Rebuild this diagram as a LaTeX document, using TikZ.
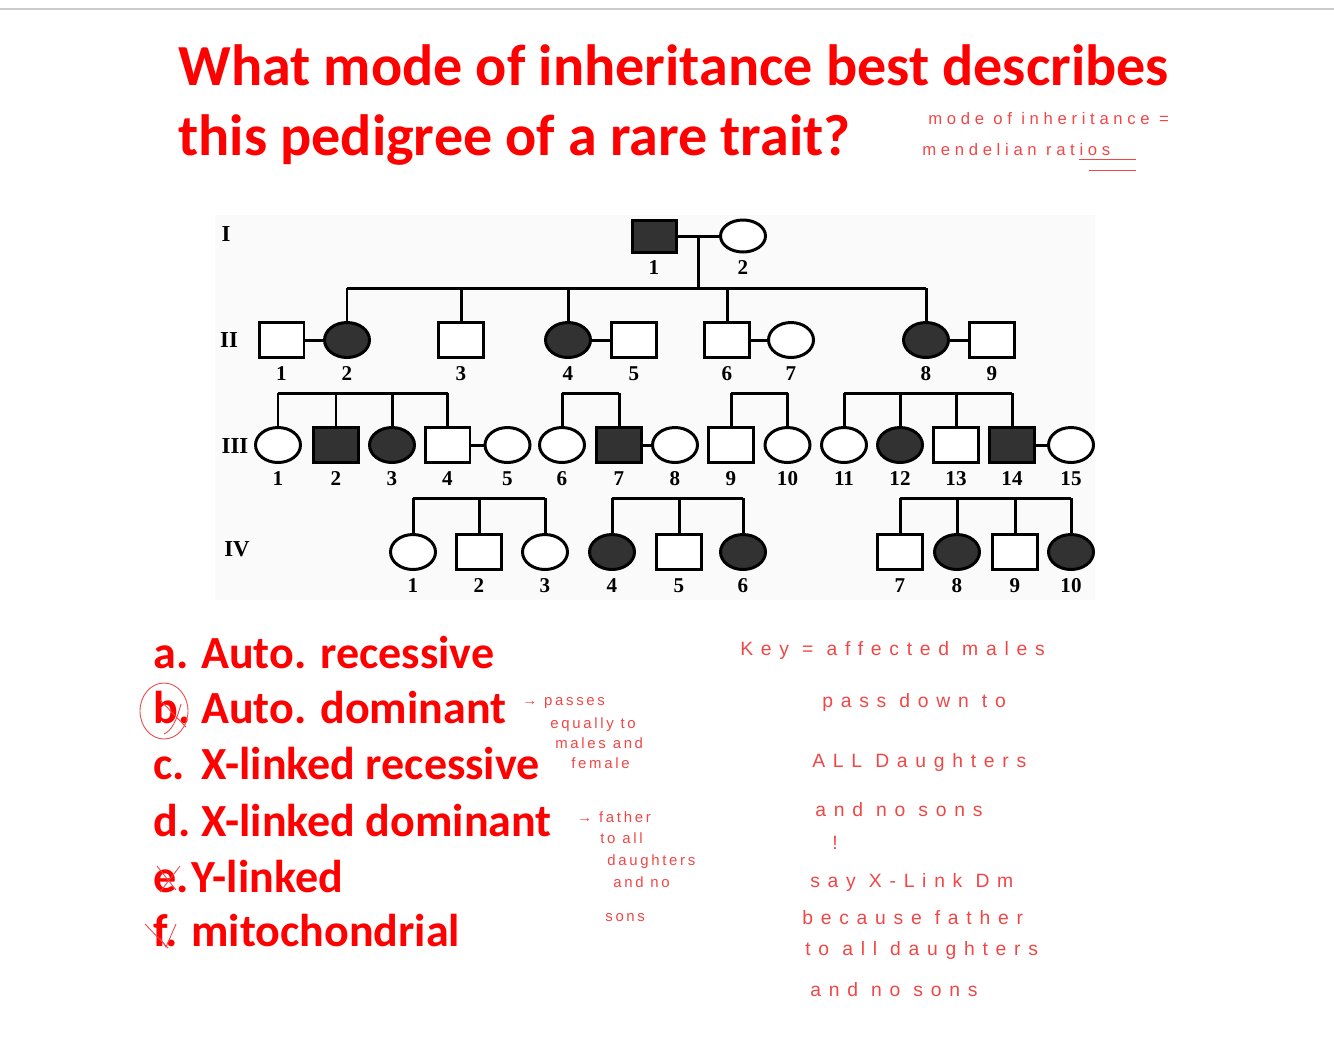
\documentclass[tikz,border=0pt]{standalone}
\usepackage{fontspec}
\setmainfont{Carlito}
\newfontfamily\pedfont{Liberation Serif}
\newfontfamily\hand[LetterSpace=18]{Liberation Sans}
\newfontfamily\handmid[LetterSpace=28]{Liberation Sans}
\newfontfamily\handwide[LetterSpace=40]{Liberation Sans}
\usepackage{tikz}
\usetikzlibrary{calc, shapes.geometric, positioning}

\definecolor{qred}{RGB}{255, 0, 0}
\definecolor{inkred}{RGB}{240, 70, 70}
\definecolor{pedfill}{RGB}{50, 50, 50}

\tikzset{
    pedline/.style={line width=1.7pt, black},
    M/.style={draw, pedline, rectangle, minimum width=0.9cm, minimum height=0.7cm, inner sep=0pt, fill=white},
    F/.style={draw, pedline, ellipse, minimum width=0.9cm, minimum height=0.7cm, inner sep=0pt, fill=white},
    MA/.style={M, fill=pedfill},
    FA/.style={F, fill=pedfill},
    pedlab/.style={font=\pedfont\bfseries\fontsize{12}{12}\selectfont, inner sep=0pt},
    gen/.style={font=\pedfont\bfseries\fontsize{13}{13}\selectfont, inner sep=0pt},
    title/.style={anchor=base west, inner sep=0pt, text=qred, font=\bfseries\fontsize{33.1}{40}\selectfont},
    answer/.style={anchor=base west, inner sep=0pt, text=qred, font=\bfseries\fontsize{26.2}{32}\selectfont},
    note/.style={anchor=west, inner sep=0pt, text=inkred, font=\hand\fontsize{8.5}{10}\selectfont},
    topnote/.style={note, font=\handmid\fontsize{9.5}{11}\selectfont},
    keynote/.style={note, font=\handwide\fontsize{11}{12}\selectfont},
    ink/.style={inkred, line width=0.5pt}
}

\begin{document}
\begin{tikzpicture}[x=0.02cm, y=-0.02cm, label distance=0.14cm]
    \useasboundingbox (0,0) rectangle (1334,1056);
    \draw[gray!40, line width=0.8pt] (0,9) -- (1334,9);

    % 1. Câu hỏi
    \node[title] (q1) at (178,85) {What mode of inheritance best describes};
    \node[title] (q2) at (178,155) {this pedigree of a rare trait?};

    % 2. Phả hệ
    \fill[black!2] (215,215) rectangle (1095,600);
    \node[gen] (gI) at (226,234) {I};
    \node[gen] (gII) at (229,340) {II};
    \node[gen] (gIII) at (235,446) {III};
    \node[gen] (gIV) at (237,549) {IV};

    % thế hệ I
    \node[MA, minimum width=0.88cm, minimum height=0.64cm, label={[pedlab]below:1}] (I1) at (654,236) {};
    \node[F, minimum width=0.9cm, minimum height=0.64cm, label={[pedlab]below:2}] (I2) at (743,236) {};

    % thế hệ II
    \foreach \n/\x/\s in {1/281.5/M, 2/347/FA, 3/461/M, 4/568/FA, 5/634/M,
                          6/727/M, 7/791/F, 8/926/FA, 9/992/M}
        \node[\s, label={[pedlab]below:\n}] (II\n) at (\x,340) {};

    % thế hệ III
    \foreach \n/\x/\s in {1/278/F, 2/336/MA, 3/392/FA, 4/447.5/M, 5/507.5/F,
                          6/562/F, 7/619/MA, 8/675/F, 9/731/M, 10/787.5/F,
                          11/844/F, 12/900/FA, 13/956/M, 14/1012/MA, 15/1071/F}
        \node[\s, label={[pedlab]below:\n}] (III\n) at (\x,445) {};

    % thế hệ IV
    \foreach \n/\x/\s in {1/413/F, 2/479/M, 3/545/F, 4/612/FA, 5/679/M,
                          6/743/FA, 7/900/M, 8/957/FA, 9/1015/M, 10/1071/FA}
        \node[\s, label={[pedlab]below:\n}] (IV\n) at (\x,552) {};

    % hôn nhân và con cái
    \coordinate (mI) at ($(I1.east)!0.5!(I2.west)$);
    \coordinate (sI) at (700,288);
    \draw[pedline] (I1.east) -- (I2.west);
    \draw[pedline] (mI) -- (mI |- sI);
    \draw[pedline] (II2.north |- sI) -- (II8.north |- sI);
    \foreach \c in {II2, II3, II4, II6, II8}
        \draw[pedline] (\c.north) -- (\c.north |- sI);

    \coordinate (sII) at (0,393);
    \foreach \a/\b/\l/\r/\kids in {II1/II2/III1/III4/{III1,III2,III3,III4},
                                 II4/II5/III6/III7/{III6,III7},
                                 II6/II7/III9/III10/{III9,III10},
                                 II8/II9/III11/III14/{III11,III12,III13,III14}} {
        \draw[pedline] (\a.east) -- (\b.west);
        \draw[pedline] ($(\a.east)!0.5!(\b.west)$) -- ($(\a.east)!0.5!(\b.west)$ |- sII);
        \draw[pedline] (\l.north |- sII) -- (\r.north |- sII);
        \foreach \c in \kids
            \draw[pedline] (\c.north) -- (\c.north |- sII);
    }

    \coordinate (sIII) at (0,498);
    \foreach \a/\b/\l/\r/\kids in {III4/III5/IV1/IV3/{IV1,IV2,IV3},
                                 III7/III8/IV4/IV6/{IV4,IV5,IV6},
                                 III14/III15/IV7/IV10/{IV7,IV8,IV9,IV10}} {
        \draw[pedline] (\a.east) -- (\b.west);
        \draw[pedline] ($(\a.east)!0.5!(\b.west)$) -- ($(\a.east)!0.5!(\b.west)$ |- sIII);
        \draw[pedline] (\l.north |- sIII) -- (\r.north |- sIII);
        \foreach \c in \kids
            \draw[pedline] (\c.north) -- (\c.north |- sIII);
    }

    % 3. Đáp án
    \node[answer] (la) at (153,668) {a.};
    \node[answer] (ta) at (201,668) {Auto. recessive};
    \node[answer] (lb) at (153,723) {b.};
    \node[answer] (tb) at (201,723) {Auto. dominant};
    \node[answer] (lc) at (153,779) {c.};
    \node[answer] (tc) at (201,779) {X-linked recessive};
    \node[answer] (ld) at (153,836) {d.};
    \node[answer] (td) at (201,836) {X-linked dominant};
    \node[answer] (le) at (153,892) {e.};
    \node[answer] (te) at (191,892) {Y-linked};
    \node[answer] (lf) at (153,946) {f.};
    \node[answer] (tf) at (191,946) {mitochondrial};

    % 4. Ghi chú viết tay
    \draw[ink] (164,711) ellipse (24 and 28);
    \draw[ink] (160,700) -- (186,727);
    \draw[ink] (181,704) .. controls (176,722) and (172,730) .. (164,734);
    \draw[ink] (157,866) -- (176,890);
    \draw[ink] (180,866) -- (160,892);
    \draw[ink] (145,924) -- (168,948);
    \draw[ink] (160,938) -- (166,947) -- (176,924);

    \node[topnote] (n1) at (928,119) {mode of inheritance =};
    \node[topnote] (n2) at (922,150) {mendelian ratios};
    \draw[ink] (1079,159) -- (1136,159);
    \draw[ink] (1089,170) -- (1136,170);

    \node[note] (p1) at (522,703) {→ passes};
    \node[note] (p2) at (550,725) {equally to};
    \node[note] (p3) at (555,743) {males and};
    \node[note] (p4) at (571,763) {female};
    \node[note] (d1) at (577,817) {→ father};
    \node[note] (d2) at (600,838) {to all};
    \node[note] (d3) at (607,862) {daughters};
    \node[note] (d4) at (613,882) {and no};
    \node[note] (d5) at (605,918) {sons};

    \node[keynote] (k1) at (740,650) {Key = affected males};
    \node[keynote] (k2) at (822,702) {pass down to};
    \node[keynote] (k3) at (812,762) {ALL Daughters};
    \node[keynote] (k4) at (815,810) {and no sons};
    \node[keynote] (k5) at (832,843) {!};
    \node[keynote] (k6) at (810,882) {say X-Link Dm};
    \node[keynote] (k7) at (802,918) {because father};
    \node[keynote] (k8) at (805,950) {to all daughters};
    \node[keynote] (k9) at (810,990) {and no sons};
\end{tikzpicture}
\end{document}
